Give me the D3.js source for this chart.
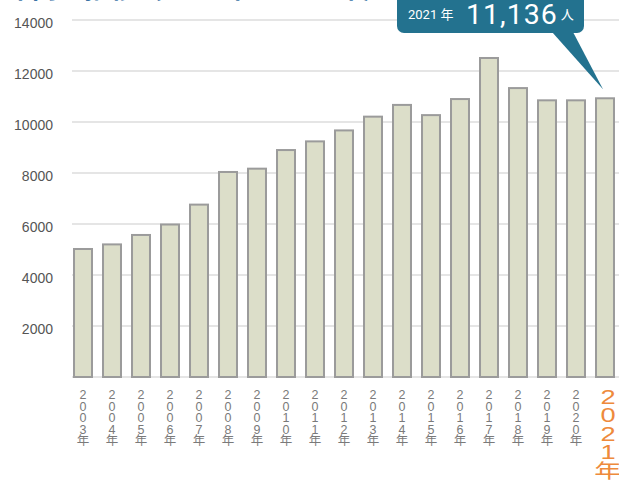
<!DOCTYPE html>
<html>
<head>
<meta charset="utf-8">
<script src="https://cdn.jsdelivr.net/npm/d3@7"></script>
<style>
  html, body { margin: 0; padding: 0; background: #fff; }
  svg { display: block; }
</style>
</head>
<body>
<svg id="chart" width="619" height="486"></svg>
<script>
// chart data
const years = [2003, 2004, 2005, 2006, 2007, 2008, 2009, 2010, 2011, 2012,
               2013, 2014, 2015, 2016, 2017, 2018, 2019, 2020, 2021];
const values = [5020, 5200, 5570, 5980, 6760, 8040, 8170, 8900, 9240, 9670,
                10210, 10670, 10270, 10900, 12510, 11330, 10850, 10850, 10930];
const yTicks = [2000, 4000, 6000, 8000, 10000, 12000, 14000];
const calloutYear = '2021 年';
const calloutValue = '11,136';
const calloutUnit = '人';
const titleText = '年間の推移（2003年〜2021年）';

const width = 619, height = 486;
const svg = d3.select('#chart');

const x = d3.scaleBand()
    .domain(years)
    .range([68.5, 619.5])
    .paddingInner(0.38)
    .paddingOuter(0.19);

const y = d3.scaleLinear()
    .domain([0, 14000])
    .range([377, 20]);

// title (almost entirely cut off at the top edge)
svg.append('text')
    .attr('x', 6)
    .attr('y', -2)
    .attr('fill', '#3a74a6')
    .attr('font-family', '"Noto Sans CJK JP", sans-serif')
    .attr('font-weight', 700)
    .attr('font-size', 26)
    .text(titleText);

// grid lines
svg.append('g')
    .selectAll('line')
    .data([0, ...yTicks])
    .join('line')
    .attr('x1', 72)
    .attr('x2', width)
    .attr('y1', d => y(d))
    .attr('y2', d => y(d))
    .attr('stroke', '#dcdcdc')
    .attr('stroke-width', 1.5);

// y tick labels
svg.append('g')
    .selectAll('text')
    .data(yTicks)
    .join('text')
    .attr('x', 53)
    .attr('y', d => y(d) + 8)
    .attr('text-anchor', 'end')
    .attr('fill', '#555')
    .attr('font-family', '"Liberation Sans", Arial, sans-serif')
    .attr('font-size', 14)
    .text(d => d);

// bars
svg.append('g')
    .selectAll('rect')
    .data(years)
    .join('rect')
    .attr('x', d => x(d))
    .attr('y', (d, i) => y(values[i]))
    .attr('width', x.bandwidth())
    .attr('height', (d, i) => y(0) - y(values[i]))
    .attr('fill', '#dcdec9')
    .attr('stroke', '#9b9b9b')
    .attr('stroke-width', 2);

// x labels, stacked vertically one char per line
const lastYear = years[years.length - 1];
const xLabels = svg.append('g');
years.forEach(yr => {
    const chars = (yr + '年').split('');
    const big = yr === lastYear;
    const cx = x(yr) + x.bandwidth() / 2;
    const t = xLabels.append('text')
        .attr('text-anchor', 'middle')
        .attr('fill', big ? '#ee8a3c' : '#7a7a7a')
        .attr('font-family', '"Liberation Sans", "Noto Sans CJK JP", sans-serif')
        .attr('font-size', big ? 19.5 : 12.5);
    if (big) {
        t.attr('transform', `translate(${cx + 3},0) scale(1.4,1)`);
    }
    chars.forEach((c, i) => {
        t.append('tspan')
            .attr('x', big ? 0 : cx)
            .attr('y', big ? 404 + i * 18.5 : 399 + i * 11.5)
            .text(c);
    });
});

// callout box pointing at the last bar
const tipX = x(lastYear) + x.bandwidth() / 2 - 2;
const tipY = y(values[values.length - 1]) - 9;
const callout = svg.append('g');
callout.append('rect')
    .attr('x', 397)
    .attr('y', -12)
    .attr('width', 187)
    .attr('height', 45)
    .attr('rx', 7)
    .attr('fill', '#23728f');
callout.append('path')
    .attr('d', `M552,32 L573,32 L${tipX},${tipY} Z`)
    .attr('fill', '#23728f');

const ct = callout.append('text')
    .attr('fill', '#fff')
    .attr('font-family', 'Roboto, "Noto Sans CJK JP", sans-serif');
ct.append('tspan')
    .attr('x', 408)
    .attr('y', 19)
    .attr('font-size', 13)
    .text(calloutYear);
ct.append('tspan')
    .attr('x', 466)
    .attr('y', 24)
    .attr('font-size', 28.5)
    .attr('letter-spacing', 1)
    .text(calloutValue);
ct.append('tspan')
    .attr('dx', 3)
    .attr('y', 19)
    .attr('font-size', 13)
    .text(calloutUnit);
</script>
</body>
</html>
